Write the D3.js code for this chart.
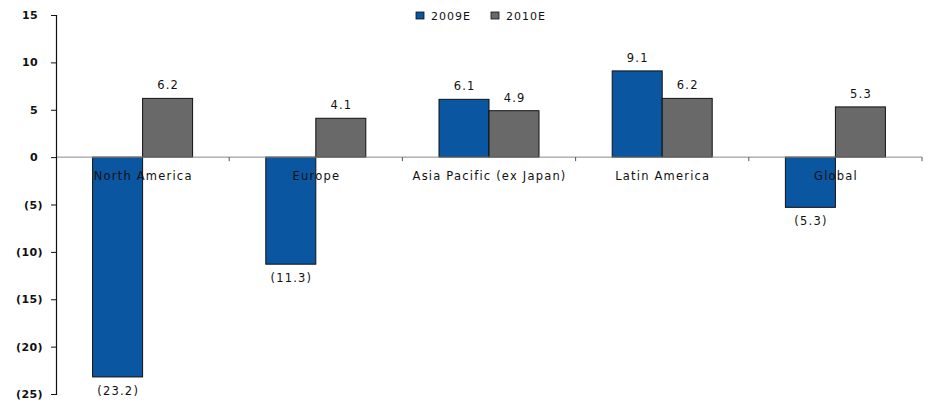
<!DOCTYPE html>
<html>
<head>
<meta charset="utf-8">
<script src="https://cdn.jsdelivr.net/npm/d3@7"></script>
<style>
  html, body { margin: 0; padding: 0; background: #fff; }
  svg text { font-family: "DejaVu Sans", Verdana, sans-serif; fill: #111; }
</style>
</head>
<body>
<svg id="chart" width="928" height="403"></svg>
<script>
// Regional growth estimates, 2009E vs 2010E (%)
const regions = ["North America", "Europe", "Asia Pacific (ex Japan)", "Latin America", "Global"];
const seriesNames = ["2009E", "2010E"];
const values2009 = [-23.2, -11.3, 6.1, 9.1, -5.3];
const values2010 = [6.2, 4.1, 4.9, 6.2, 5.3];
const yTicks = [15, 10, 5, 0, -5, -10, -15, -20, -25];
const colors = ["#0a56a1", "#696969"];

const svg = d3.select("#chart");
const margin = { left: 56, right: 6, top: 15, bottom: 9 };
const W = 928, H = 403;

const x = d3.scaleBand()
  .domain(regions)
  .range([margin.left, W - margin.right])
  .paddingInner(0)
  .paddingOuter(0);

const inner = d3.scaleBand()
  .domain(seriesNames)
  .range([0, x.bandwidth()])
  .paddingInner(0)
  .paddingOuter(0.732);

const y = d3.scaleLinear()
  .domain([-25, 15])
  .range([H - margin.bottom, margin.top]);

const fmt = v => v < 0 ? "(" + Math.abs(v).toFixed(1) + ")" : v.toFixed(1);
const fmtTick = v => v < 0 ? "(" + Math.abs(v) + ")" : String(v);

const rows = regions.map((r, i) => ({ region: r, vals: [values2009[i], values2010[i]] }));

// Bars
const groups = svg.append("g").selectAll("g")
  .data(rows).join("g")
  .attr("transform", d => `translate(${x(d.region)},0)`);

groups.selectAll("rect")
  .data(d => d.vals.map((v, k) => ({ v, k })))
  .join("rect")
  .attr("x", d => inner(seriesNames[d.k]))
  .attr("width", inner.bandwidth())
  .attr("y", d => y(Math.max(0, d.v)))
  .attr("height", d => Math.abs(y(d.v) - y(0)))
  .attr("fill", d => colors[d.k])
  .attr("stroke", "#111")
  .attr("stroke-width", 1);

// Zero line with category ticks
svg.append("line")
  .attr("x1", margin.left).attr("x2", W - margin.right)
  .attr("y1", y(0)).attr("y2", y(0))
  .attr("stroke", "#8a8a8a").attr("stroke-width", 1);

svg.append("g").selectAll("line")
  .data(regions.slice(1).map(r => x(r)).concat([W - margin.right]))
  .join("line")
  .attr("x1", d => d).attr("x2", d => d)
  .attr("y1", y(0)).attr("y2", y(0) + 4)
  .attr("stroke", "#555");

// Value labels
groups.selectAll("text.val")
  .data(d => d.vals.map((v, k) => ({ v, k })))
  .join("text")
  .attr("class", "val")
  .attr("x", d => inner(seriesNames[d.k]) + inner.bandwidth() / 2 + 0.6)
  .attr("y", d => d.v >= 0 ? y(d.v) - 9 : y(d.v) + 18)
  .attr("text-anchor", "middle")
  .attr("font-size", 11.5)
  .attr("letter-spacing", 1.2)
  .text(d => fmt(d.v));

// Category labels below the zero line
svg.append("g").selectAll("text")
  .data(regions).join("text")
  .attr("x", d => x(d) + x.bandwidth() / 2 + 0.6)
  .attr("y", y(0) + 23)
  .attr("text-anchor", "middle")
  .attr("font-size", 11.5)
  .attr("letter-spacing", 1.2)
  .text(d => d);

// Y axis (positive labels keep room for the closing parenthesis)
const yAxis = d3.axisLeft(y)
  .tickValues(yTicks)
  .tickFormat(fmtTick)
  .tickSize(5)
  .tickPadding(8);

const ya = svg.append("g")
  .attr("transform", `translate(${margin.left},0)`)
  .call(yAxis);
ya.select(".domain").attr("stroke", "#111").attr("stroke-width", 1.2);
ya.selectAll(".tick line").attr("stroke", "#111");
ya.selectAll(".tick text")
  .attr("font-size", 11)
  .attr("font-weight", "bold")
  .attr("letter-spacing", 0.4)
  .attr("font-family", "DejaVu Sans, Verdana, sans-serif")
  .attr("fill", "#222")
  .attr("dx", d => d < 0 ? 0 : -5);

// Legend
const legend = svg.append("g").attr("transform", "translate(416,12)");
const items = legend.selectAll("g").data(seriesNames).join("g")
  .attr("transform", (d, i) => `translate(${i * 75},0)`);
items.append("rect")
  .attr("width", 8).attr("height", 7)
  .attr("fill", (d, i) => colors[i])
  .attr("stroke", "#111").attr("stroke-width", 0.8);
items.append("text")
  .attr("x", 15).attr("y", 8)
  .attr("font-size", 11)
  .attr("letter-spacing", 1)
  .text(d => d);
</script>
</body>
</html>
